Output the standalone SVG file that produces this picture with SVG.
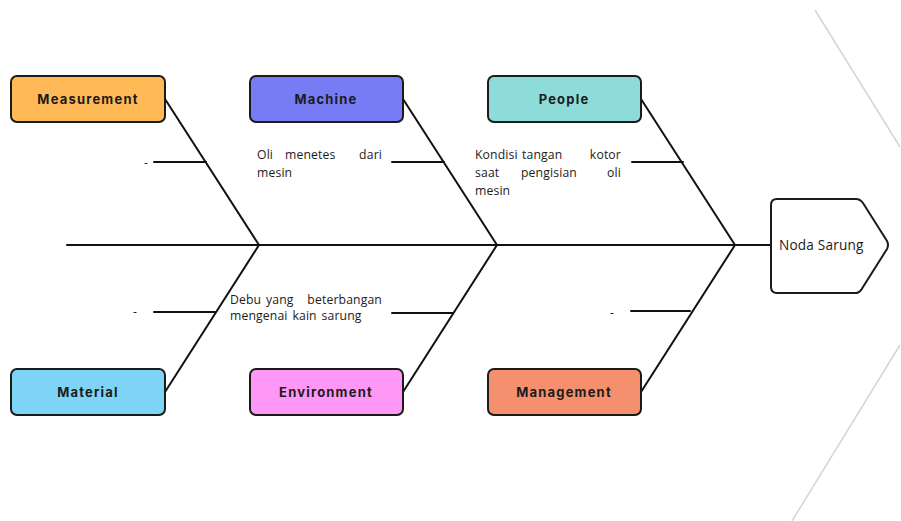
<svg xmlns="http://www.w3.org/2000/svg" width="901" height="521" viewBox="0 0 901 521">
<style>
.box{stroke:#1b1b1b;stroke-width:2}
.lbl{font-family:Inter,"Open Sans",sans-serif;font-weight:700;font-size:13px;letter-spacing:1.2px;fill:#1b1b1b;text-anchor:middle;dominant-baseline:central}
.bone{stroke:#111;stroke-width:2;fill:none;stroke-linecap:round}
.txt{font-family:"Open Sans","Noto Sans",sans-serif;font-size:12.2px;letter-spacing:0.15px;fill:#1b1b1b}
.end{text-anchor:end}
.deco{stroke:#d9d5c9;stroke-width:1.5;fill:none}
</style>
<rect width="901" height="521" fill="#fff"/>
<g id="decor">
<line class="deco" x1="815" y1="10" x2="900" y2="147"/>
<line class="deco" x1="900" y1="345" x2="792" y2="521"/>
</g>
<g id="connectors">
<line class="bone" x1="67" y1="245" x2="771" y2="245"/>
<line class="bone" x1="165" y1="99" x2="259" y2="245"/>
<line class="bone" x1="403" y1="99" x2="497" y2="245"/>
<line class="bone" x1="641" y1="99" x2="735" y2="245"/>
<line class="bone" x1="165" y1="392" x2="259" y2="245"/>
<line class="bone" x1="403" y1="392" x2="497" y2="245"/>
<line class="bone" x1="641" y1="392" x2="735" y2="245"/>
<line class="bone" x1="154" y1="162" x2="206" y2="162"/>
<line class="bone" x1="392" y1="162" x2="444" y2="162"/>
<line class="bone" x1="632" y1="162" x2="683" y2="162"/>
<line class="bone" x1="154" y1="312" x2="215" y2="312"/>
<line class="bone" x1="392" y1="313" x2="453" y2="313"/>
<line class="bone" x1="631" y1="311" x2="690" y2="311"/>
</g>
<g id="measurement"><rect class="box" x="11" y="76" width="154" height="46" rx="6" fill="#FFBA57"/><text class="lbl" x="88" y="99">Measurement</text></g>
<g id="machine"><rect class="box" x="250" y="76" width="153" height="46" rx="6" fill="#777BF4"/><text class="lbl" x="326" y="99">Machine</text></g>
<g id="people"><rect class="box" x="488" y="76" width="153" height="46" rx="6" fill="#8EDCDA"/><text class="lbl" x="564" y="99">People</text></g>
<g id="material"><rect class="box" x="11" y="369" width="154" height="46" rx="6" fill="#7DD4F5"/><text class="lbl" x="88" y="392">Material</text></g>
<g id="environment"><rect class="box" x="250" y="369" width="153" height="46" rx="6" fill="#FF97F7"/><text class="lbl" x="326" y="392">Environment</text></g>
<g id="management"><rect class="box" x="488" y="369" width="153" height="46" rx="6" fill="#F4906D"/><text class="lbl" x="564" y="392">Management</text></g>
<g id="head">
<path class="box" fill="#fff" d="M777,199 H856 Q860,199 863,203 L887,241 Q889,245 887,249 L863,287 Q860,293 856,293 H777 Q771,293 771,287 V205 Q771,199 777,199 Z"/>
<text class="txt" x="779" y="250" style="font-size:13.6px;letter-spacing:0.2px">Noda Sarung</text>
</g>
<g id="causes">
<text class="txt" x="144" y="167">-</text>
<text class="txt" y="159"><tspan x="257">Oli</tspan><tspan x="285">menetes</tspan></text>
<text class="txt end" x="382" y="159">dari</text>
<text class="txt" x="257" y="177">mesin</text>
<text class="txt" y="159"><tspan x="475">Kondisi</tspan><tspan x="522">tangan</tspan></text>
<text class="txt end" x="621" y="159">kotor</text>
<text class="txt" y="177"><tspan x="475">saat</tspan><tspan x="521">pengisian</tspan></text>
<text class="txt end" x="621" y="177">oli</text>
<text class="txt" x="475" y="195">mesin</text>
<text class="txt" x="133" y="316">-</text>
<text class="txt" y="304"><tspan x="230">Debu</tspan><tspan x="266">yang</tspan></text>
<text class="txt end" x="382" y="304">beterbangan</text>
<text class="txt" x="230" y="320" word-spacing="1.5">mengenai kain sarung</text>
<text class="txt" x="610" y="317">-</text>
</g>
</svg>
